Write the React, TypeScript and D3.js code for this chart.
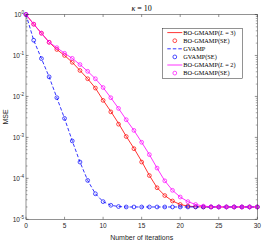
import { useEffect, useRef } from "react";
import * as d3 from "d3";

const ITERS = d3.range(0, 31);

// BO-GMAMP (L = 3), simulation and state evolution
const RED_SIM = [1.0, 0.58, 0.35, 0.21, 0.14, 0.1, 0.068, 0.043, 0.027, 0.016, 0.0081, 0.0043, 0.0022, 0.00106, 0.00054, 0.00026, 0.000118, 5.9e-5, 3.8e-5, 2.8e-5, 2.3e-5, 2.1e-5, 2.03e-5, 2.0e-5, 2.0e-5, 2.0e-5, 2.0e-5, 2.0e-5, 2.0e-5, 2.0e-5, 2.0e-5];
const RED_SE = [1.0, 0.58, 0.35, 0.21, 0.14, 0.1, 0.068, 0.043, 0.027, 0.016, 0.008, 0.0042, 0.0021, 0.00105, 0.00053, 0.00025, 0.000117, 5.9e-5, 3.8e-5, 2.8e-5, 2.3e-5, 2.1e-5, 2.02e-5, 2.0e-5, 2.0e-5, 2.0e-5, 2.0e-5, 2.0e-5, 2.0e-5, 2.0e-5, 2.0e-5];
// GVAMP
const BLUE_SIM = [1.0, 0.235, 0.084, 0.03, 0.0093, 0.0029, 0.00082, 0.00025, 8.9e-5, 4.2e-5, 2.7e-5, 2.2e-5, 2.05e-5, 2.0e-5, 2.0e-5, 2.0e-5, 2.0e-5, 2.0e-5, 2.0e-5, 2.0e-5, 2.0e-5, 2.0e-5, 2.0e-5, 2.0e-5, 2.0e-5, 2.0e-5, 2.0e-5, 2.0e-5, 2.0e-5, 2.0e-5, 2.0e-5];
const BLUE_SE = [1.0, 0.235, 0.084, 0.03, 0.0093, 0.0029, 0.00082, 0.00025, 8.9e-5, 4.2e-5, 2.7e-5, 2.2e-5, 2.05e-5, 2.0e-5, 2.0e-5, 2.0e-5, 2.0e-5, 2.0e-5, 2.0e-5, 2.0e-5, 2.0e-5, 2.0e-5, 2.0e-5, 2.0e-5, 2.0e-5, 2.0e-5, 2.0e-5, 2.0e-5, 2.0e-5, 2.0e-5, 2.0e-5];
// BO-GMAMP (L = 2)
const MAG_SIM = [1.0, 0.58, 0.35, 0.21, 0.155, 0.113, 0.085, 0.06, 0.041, 0.027, 0.0165, 0.0093, 0.0051, 0.0027, 0.00148, 0.00076, 0.00038, 0.000178, 8.7e-5, 5.1e-5, 3.5e-5, 2.7e-5, 2.3e-5, 2.1e-5, 2.02e-5, 2.0e-5, 2.0e-5, 2.0e-5, 2.0e-5, 2.0e-5, 2.0e-5];
const MAG_SE = [1.0, 0.58, 0.35, 0.21, 0.155, 0.113, 0.085, 0.06, 0.041, 0.027, 0.0165, 0.0093, 0.0051, 0.0027, 0.00148, 0.00076, 0.00038, 0.000178, 8.7e-5, 5.1e-5, 3.5e-5, 2.7e-5, 2.3e-5, 2.1e-5, 2.02e-5, 2.0e-5, 2.0e-5, 2.0e-5, 2.0e-5, 2.0e-5, 2.0e-5];

const X_TICKS = [0, 5, 10, 15, 20, 25, 30];
const Y_EXPONENTS = [0, -1, -2, -3, -4, -5];

const LEGEND = [
  { label: "BO-GMAMP", math: "L = 3", color: "#ff0000", kind: "line", dash: "" },
  { label: "BO-GMAMP(SE)", math: "", color: "#ff0000", kind: "marker", dash: "" },
  { label: "GVAMP", math: "", color: "#0000ff", kind: "line", dash: "3.5,2" },
  { label: "GVAMP(SE)", math: "", color: "#0000ff", kind: "marker", dash: "" },
  { label: "BO-GMAMP", math: "L = 2", color: "#ff00ff", kind: "line", dash: "" },
  { label: "BO-GMAMP(SE)", math: "", color: "#ff00ff", kind: "marker", dash: "" },
];

const SERIES = [
  { sim: RED_SIM, se: RED_SE, color: "#ff0000", dash: "" },
  { sim: BLUE_SIM, se: BLUE_SE, color: "#0000ff", dash: "3.5,2" },
  { sim: MAG_SIM, se: MAG_SE, color: "#ff00ff", dash: "" },
];

export default function App() {
  const svgRef = useRef<SVGSVGElement>(null);

  useEffect(() => {
    if (!svgRef.current) return;
    const width = 266;
    const height = 243;
    const margin = { top: 14.5, right: 8.7, bottom: 23.7, left: 26 };
    const innerW = width - margin.left - margin.right;
    const innerH = height - margin.top - margin.bottom;
    const axisColor = "#262626";
    const sans = "'Liberation Sans', Arial, sans-serif";
    const serif = "'Liberation Serif', 'Times New Roman', serif";

    const svg = d3.select(svgRef.current);
    svg.selectAll("*").remove();

    const g = svg.append("g").attr("transform", `translate(${margin.left},${margin.top})`);

    const x = d3.scaleLinear().domain([0, 30]).range([0, innerW]);
    const y = d3.scaleLog().domain([1e-5, 1]).range([innerH, 0]);

    g.append("rect")
      .attr("width", innerW)
      .attr("height", innerH)
      .attr("fill", "#fff");

    // x ticks (bottom + top, inward)
    X_TICKS.forEach((t) => {
      const px = x(t);
      g.append("line").attr("x1", px).attr("x2", px).attr("y1", innerH).attr("y2", innerH - 2.5)
        .attr("stroke", axisColor).attr("stroke-width", 0.5);
      g.append("line").attr("x1", px).attr("x2", px).attr("y1", 0).attr("y2", 2.5)
        .attr("stroke", axisColor).attr("stroke-width", 0.5);
      g.append("text")
        .attr("x", px)
        .attr("y", innerH + 8.5)
        .attr("text-anchor", "middle")
        .attr("font-family", sans)
        .attr("font-size", 6.5)
        .attr("fill", axisColor)
        .text(t);
    });

    // y ticks major + minor
    Y_EXPONENTS.forEach((e) => {
      const py = y(Math.pow(10, e));
      [[0, 2.5], [innerW, innerW - 2.5]].forEach(([a, b]) => {
        g.append("line").attr("x1", a).attr("x2", b).attr("y1", py).attr("y2", py)
          .attr("stroke", axisColor).attr("stroke-width", 0.5);
      });
      const lbl = g.append("text")
        .attr("x", -2)
        .attr("y", py + 2.5)
        .attr("text-anchor", "end")
        .attr("font-family", sans)
        .attr("font-size", 6.5)
        .attr("fill", axisColor);
      lbl.append("tspan").text("10");
      lbl.append("tspan").attr("dy", -3).attr("font-size", 4.5).text(String(e));
      if (e > -5) {
        for (let m = 2; m <= 9; m++) {
          const pm = y(m * Math.pow(10, e - 1));
          [[0, 1.5], [innerW, innerW - 1.5]].forEach(([a, b]) => {
            g.append("line").attr("x1", a).attr("x2", b).attr("y1", pm).attr("y2", pm)
              .attr("stroke", axisColor).attr("stroke-width", 0.4);
          });
        }
      }
    });

    // series
    const line = d3
      .line<number>()
      .x((_, i) => x(ITERS[i]))
      .y((d) => y(d));

    SERIES.forEach((s) => {
      g.append("path")
        .attr("d", line(s.sim))
        .attr("fill", "none")
        .attr("stroke", s.color)
        .attr("stroke-width", 0.8)
        .attr("stroke-dasharray", s.dash || null);
      g.selectAll(null)
        .data(s.se)
        .enter()
        .append("circle")
        .attr("cx", (_, i) => x(ITERS[i]))
        .attr("cy", (d) => y(d))
        .attr("r", 1.9)
        .attr("fill", "none")
        .attr("stroke", s.color)
        .attr("stroke-width", 0.7);
    });

    // frame
    g.append("rect")
      .attr("width", innerW)
      .attr("height", innerH)
      .attr("fill", "none")
      .attr("stroke", axisColor)
      .attr("stroke-width", 0.5);

    // legend
    const lx = 162.3 - margin.left;
    const ly = 28.3 - margin.top;
    const lg = g.append("g").attr("transform", `translate(${lx},${ly})`);
    lg.append("rect")
      .attr("width", 80.4)
      .attr("height", 50.4)
      .attr("fill", "#fff")
      .attr("stroke", axisColor)
      .attr("stroke-width", 0.5);
    LEGEND.forEach((d, i) => {
      const cy = 4.3 + i * 8.1;
      if (d.kind === "line") {
        lg.append("line")
          .attr("x1", 5).attr("x2", 20).attr("y1", cy).attr("y2", cy)
          .attr("stroke", d.color).attr("stroke-width", 0.8)
          .attr("stroke-dasharray", d.dash || null);
      } else {
        lg.append("circle").attr("cx", 12.5).attr("cy", cy).attr("r", 1.9)
          .attr("fill", "none").attr("stroke", d.color).attr("stroke-width", 0.7);
      }
      const t = lg.append("text")
        .attr("x", 21)
        .attr("y", cy + 2.1)
        .attr("font-family", serif)
        .attr("font-size", 6.3)
        .attr("fill", "#000");
      t.append("tspan").text(d.label);
      if (d.math) {
        const [v, , n] = d.math.split(" ");
        t.append("tspan").text("(");
        t.append("tspan").attr("font-style", "italic").text(v);
        t.append("tspan").text(` = ${n})`);
      }
    });

    // title
    const title = svg.append("text")
      .attr("x", margin.left + innerW / 2)
      .attr("y", 11.2)
      .attr("text-anchor", "middle")
      .attr("font-family", serif)
      .attr("font-size", 8)
      .attr("fill", "#000");
    title.append("tspan").attr("font-style", "italic").text("κ");
    title.append("tspan").text(" = 10");

    // axis labels
    svg.append("text")
      .attr("x", margin.left + innerW / 2)
      .attr("y", 239.5)
      .attr("text-anchor", "middle")
      .attr("font-family", sans)
      .attr("font-size", 7)
      .attr("fill", axisColor)
      .text("Number of iterations");

    svg.append("text")
      .attr("transform", `translate(7.5,${margin.top + innerH / 2}) rotate(-90)`)
      .attr("text-anchor", "middle")
      .attr("font-family", sans)
      .attr("font-size", 7)
      .attr("fill", axisColor)
      .text("MSE");
  }, []);

  return (
    <div style={{ position: "absolute", left: 0, top: 0 }}>
      <svg ref={svgRef} width={266} height={243} style={{ display: "block", background: "#fff" }} />
    </div>
  );
}
